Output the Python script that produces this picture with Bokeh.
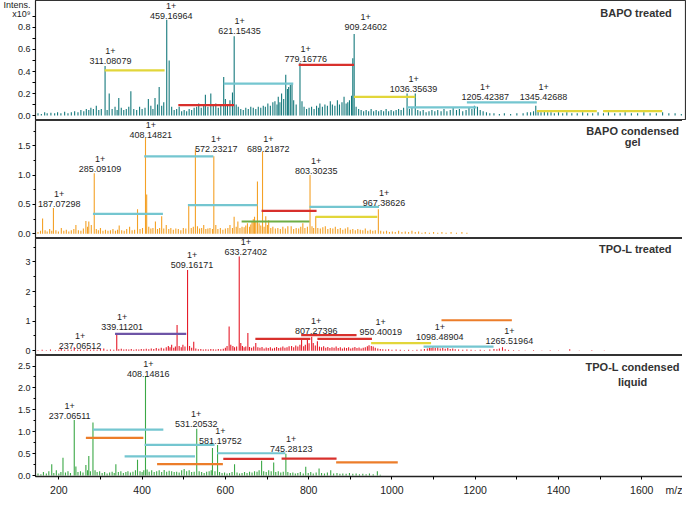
from bokeh.plotting import figure
from bokeh.layouts import column
from bokeh.models import Range1d, Label, FixedTicker, PrintfTickFormatter, ColumnDataSource
from bokeh.core.properties import value
from bokeh.embed import file_html
from bokeh.resources import INLINE

# ---------------- data (m/z, intensity x1e9) ----------------
bapo_treated_peaks = [
    (150, .02), (158, .015), (166, .03), (172, .02), (181, .025), (190, .02), (197, .03), (205, .02),
    (214, .035), (222, .02), (230, .03), (238, .04), (246, .03), (253, .05), (260, .04), (266, .06),
    (272, .05), (277, .07), (283, .06), (290, .09), (296, .05), (302, .06), (311.08, .45), (316, .05),
    (321, .20), (328, .06), (335, .08), (340, .05), (344, .16), (350, .07), (356, .05), (362, .06),
    (368, .08), (373, .22), (380, .06), (387, .05), (394, .08), (400, .06), (407, .07), (415, .15),
    (421, .09), (426, .06), (431, .16), (437, .10), (441, .26), (447, .09), (452, .12), (459.17, .87),
    (465, .50), (471, .08), (477, .05), (483, .06), (489, .08), (495, .04), (501, .05), (507, .04),
    (513, .06), (519, .05), (525, .07), (531, .08), (536, .11), (542, .07), (548, .09), (552, .19),
    (558, .08), (565, .20), (571, .10), (577, .11), (583, .07), (589, .09), (596, .35), (600, .15),
    (605, .10), (611, .14), (617, .21), (621.15, .72), (626, .10), (631, .08), (637, .06), (643, .05),
    (649, .07), (655, .06), (661, .08), (667, .07), (673, .06), (679, .08), (685, .07), (691, .09),
    (696, .08), (702, .11), (708, .09), (714, .12), (719, .13), (724, .10), (727, .17), (731, .12),
    (735, .20), (740, .15), (745, .37), (749, .24), (752, .26), (756, .28), (760, .29), (764, .14),
    (770, .10), (779.17, .48), (784, .13), (789, .08), (795, .06), (801, .07), (807, .08), (813, .06),
    (819, .09), (824, .07), (827, .11), (833, .08), (839, .10), (845, .09), (852, .13), (857, .10),
    (863, .09), (869, .14), (874, .10), (880, .12), (885, .17), (890, .11), (894, .12), (898, .14),
    (903, .18), (906, .52), (909.25, .74), (914, .08), (920, .06), (926, .05), (932, .04), (938, .05),
    (944, .04), (950, .06), (956, .04), (962, .05), (968, .04), (974, .05), (980, .04), (986, .06),
    (992, .04), (998, .05), (1004, .04), (1010, .05), (1016, .06), (1022, .05), (1028, .07),
    (1036.36, .20), (1042, .06), (1048, .07), (1056, .20), (1062, .05), (1068, .04), (1075, .05),
    (1082, .03), (1089, .04), (1096, .05), (1103, .04), (1110, .05), (1118, .04), (1125, .06),
    (1132, .04), (1140, .05), (1147, .07), (1155, .05), (1162, .06), (1170, .04), (1178, .05),
    (1185, .07), (1192, .06), (1198, .09), (1205.42, .08), (1212, .05), (1219, .04), (1227, .03),
    (1235, .02), (1245, .02), (1258, .015), (1270, .02), (1285, .015), (1300, .02), (1315, .02),
    (1325, .03), (1333, .03), (1340, .04), (1345.43, .09), (1351, .04), (1358, .03), (1366, .04),
    (1374, .03), (1382, .03), (1390, .02), (1400, .03), (1410, .02), (1420, .03), (1432, .02),
    (1445, .02), (1458, .03), (1470, .02), (1482, .02), (1495, .03), (1508, .02), (1520, .03),
    (1535, .02), (1548, .02), (1560, .03), (1575, .02), (1590, .02), (1605, .03), (1620, .02),
    (1635, .02), (1650, .03), (1665, .02), (1680, .02), (1695, .015),
]
bapo_treated_bars = [
    (310, 454, 0.41, "yellow"), (487, 621, 0.095, "red"), (596, 763, 0.29, "cyan"),
    (776, 909, 0.46, "red"), (909, 1056, 0.17, "yellow"), (1035, 1203, 0.075, "cyan"),
    (1180, 1348, 0.12, "cyan"), (1348, 1492, 0.04, "yellow"), (1507, 1649, 0.04, "yellow"),
]
bapo_treated_labels = [
    ("311.08079", 324, 0.47), ("459.16964", 470, 0.88), ("621.15435", 634, 0.74),
    ("779.16776", 793, 0.49), ("909.24602", 937, 0.78), ("1036.35639", 1052, 0.215),
    ("1205.42387", 1224, 0.14), ("1345.42688", 1364, 0.14),
]

bapo_gel_peaks = [
    (150, .03), (156, .05), (161, .26), (167, .06), (172, .04), (178, .08), (183, .05), (187.07, .44),
    (193, .06), (199, .04), (206, .10), (212, .05), (218, .07), (224, .04), (230, .06), (236, .08),
    (241, .15), (247, .06), (253, .05), (259, .09), (265, .22), (269, .12), (272, .21), (278, .15),
    (285.09, 1.03), (290, .08), (295, .06), (300, .10), (306, .05), (312, .07), (318, .05), (324, .06),
    (330, .08), (336, .05), (341, .07), (345, .14), (351, .06), (357, .05), (363, .08), (370, .12),
    (376, .06), (382, .07), (389, .42), (395, .08), (401, .10), (408.15, 1.63), (411, .67), (416, .12),
    (421, .09), (426, .10), (432, .21), (437, .08), (442, .10), (447, .30), (452, .09), (458, .15),
    (464, .08), (469, .10), (475, .07), (481, .09), (487, .08), (493, .06), (499, .10), (505, .09),
    (512, .48), (518, .10), (523, .12), (528, 1.44), (533, .13), (538, .09), (543, .10), (548, .15),
    (553, .08), (558, .09), (563, .10), (569, .08), (572.23, 1.32), (577, .15), (582, .08), (588, .10),
    (594, .07), (600, .09), (606, .10), (611, .15), (617, .10), (621, .29), (626, .12), (630, .21),
    (635, .10), (640, .12), (645, .11), (649, .14), (653, .18), (658, .12), (661, .16), (664, .21),
    (667, .25), (670, .29), (673, .20), (677, .89), (681, .18), (685, .14), (689.22, 1.40), (693, .12),
    (697, .30), (701, .15), (704, .23), (709, .10), (714, .12), (720, .09), (726, .10), (732, .08),
    (738, .12), (744, .09), (750, .13), (758, .13), (764, .08), (770, .10), (776, .09), (781, .12),
    (786, .18), (791, .10), (797, .12), (803.30, 1.00), (808, .13), (812, .10), (817, .30), (822, .10),
    (828, .09), (834, .11), (840, .13), (846, .08), (852, .10), (858, .09), (864, .12), (870, .08),
    (876, .10), (882, .07), (888, .09), (894, .11), (900, .07), (906, .08), (912, .06), (918, .08),
    (924, .07), (930, .06), (936, .09), (942, .05), (948, .07), (954, .05), (960, .06), (967.39, .42),
    (973, .05), (980, .04), (987, .05), (994, .03), (1001, .04), (1008, .03), (1016, .05), (1024, .03),
    (1032, .04), (1040, .03), (1048, .05), (1056, .03), (1064, .04), (1072, .02), (1080, .03),
    (1090, .02), (1100, .03), (1110, .02), (1120, .03), (1130, .02), (1142, .03), (1155, .02),
    (1168, .03), (1180, .02),
]
bapo_gel_bars = [
    (282, 450, 0.34, "cyan"), (405, 571, 1.32, "cyan"), (510, 677, 0.49, "cyan"),
    (687, 819, 0.39, "red"), (639, 802, 0.21, "green"), (802, 969, 0.46, "cyan"),
    (817, 965, 0.29, "yellow"),
]
bapo_gel_labels = [
    ("187.07298", 201, 0.46), ("285.09109", 299, 1.06), ("408.14821", 421, 1.63),
    ("572.23217", 578, 1.40), ("689.21872", 703, 1.40), ("803.30235", 818, 1.02),
    ("967.38626", 981, 0.47),
]

tpo_treated_peaks = [
    (150, .02), (160, .03), (170, .02), (180, .04), (192, .02), (200, .03), (206, .08), (214, .03),
    (222, .04), (230, .03), (237.07, .12), (245, .03), (252, .04), (260, .02), (268, .05), (276, .03),
    (284, .04), (292, .03), (300, .06), (308, .08), (316, .03), (324, .04), (332, .03), (339.11, .60),
    (344, .05), (350, .07), (356, .04), (362, .05), (368, .04), (374, .06), (380, .03), (386, .05),
    (392, .04), (398, .06), (404, .05), (410, .07), (416, .05), (422, .08), (428, .06), (434, .09),
    (440, .07), (446, .10), (452, .08), (458, .12), (463, .16), (467, .12), (471, .20), (476, .10),
    (480, .14), (484, .87), (489, .16), (494, .12), (498, .20), (503, .14), (509.16, 2.73), (514, .16),
    (519, .10), (524, .30), (529, .08), (535, .05), (541, .06), (547, .04), (553, .05), (559, .04),
    (565, .06), (571, .05), (577, .04), (583, .06), (589, .05), (595, .07), (600, .10), (604, .16),
    (609, .82), (613, .20), (618, .16), (622, .12), (627, .14), (633.27, 3.18), (637, .26), (641, .16),
    (645, .12), (649, .14), (654, .60), (658, .13), (663, .10), (668, .14), (673, .26), (678, .12),
    (683, .10), (688, .13), (693, .08), (698, .11), (703, .09), (708, .12), (713, .08), (718, .10),
    (723, .13), (728, .09), (733, .11), (738, .14), (743, .10), (748, .12), (753, .15), (759, .16),
    (764, .12), (769, .18), (774, .14), (779, .20), (783, .37), (788, .15), (792, .20), (797, .42),
    (801, .25), (807.27, .47), (811, .26), (816, .18), (821, .32), (826, .14), (831, .12), (836, .15),
    (841, .10), (846, .13), (851, .09), (856, .12), (861, .10), (866, .14), (871, .09), (876, .12),
    (881, .08), (886, .11), (891, .09), (896, .12), (901, .08), (906, .10), (911, .13), (916, .09),
    (921, .11), (926, .08), (931, .10), (936, .12), (941, .15), (945, .19), (950.40, .16), (955, .14),
    (960, .10), (966, .08), (972, .06), (978, .05), (985, .04), (992, .05), (1000, .03), (1010, .04),
    (1020, .03), (1030, .02), (1040, .03), (1050, .02), (1060, .03), (1070, .04), (1078, .06),
    (1085, .08), (1090, .10), (1094, .09), (1098.49, .13), (1104, .10), (1110, .12), (1116, .08),
    (1122, .10), (1128, .07), (1134, .09), (1140, .06), (1146, .08), (1152, .05), (1160, .04),
    (1170, .03), (1180, .04), (1190, .03), (1200, .02), (1212, .03), (1222, .02), (1235, .04),
    (1245, .06), (1252, .05), (1258, .08), (1265.52, .12), (1272, .05), (1280, .03), (1292, .02),
    (1305, .02), (1320, .01), (1340, .02), (1360, .01), (1380, .02), (1400, .01), (1427, .05),
    (1450, .01), (1480, .015), (1510, .01),
]
tpo_treated_bars = [
    (335, 506, 0.57, "purple"), (672, 804, 0.40, "red"), (782, 915, 0.53, "red"),
    (821, 952, 0.40, "red"), (950, 1094, 0.26, "yellow"), (1076, 1244, 0.14, "cyan"),
    (1119, 1288, 1.03, "orange"),
]
tpo_treated_labels = [
    ("237.06512", 251, 0.05), ("339.11201", 352, 0.69), ("509.16171", 520, 2.81),
    ("633.27402", 649, 3.23), ("807.27396", 818, 0.58), ("950.40019", 973, 0.52),
    ("1098.48904", 1115, 0.35), ("1265.51964", 1282, 0.24),
]

tpo_liquid_peaks = [
    (150, .05), (157, .03), (163, .08), (170, .05), (176, .10), (183, .26), (188, .06), (194, .12),
    (200, .05), (205, .08), (210, .41), (216, .07), (222, .10), (228, .06), (237.07, 1.27), (241, .21),
    (246, .08), (252, .10), (258, .07), (265, .24), (269, .12), (272, .45), (276, .10), (282, 1.21),
    (287, .12), (292, .08), (298, .10), (304, .06), (310, .08), (316, .05), (322, .07), (328, .09),
    (333, .06), (337, .26), (343, .08), (349, .10), (355, .06), (361, .08), (366, .10), (372, .07),
    (378, .09), (384, .12), (389, .36), (395, .10), (400, .08), (404, .12), (408.15, 2.27), (412, .14),
    (417, .09), (423, .12), (429, .08), (435, .10), (441, .12), (447, .08), (453, .13), (459, .09),
    (465, .11), (471, .10), (477, .08), (483, .09), (489, .07), (495, .12), (501, .15), (507, .10),
    (513, .12), (519, .08), (525, .09), (531.21, 1.07), (537, .10), (543, .08), (549, .06), (555, .09),
    (561, .10), (566, .12), (569, .63), (575, .10), (581.20, .70), (586, .08), (592, .06), (598, .07),
    (604, .05), (610, .06), (616, .08), (622, .26), (628, .07), (634, .05), (640, .06), (646, .08),
    (652, .06), (658, .09), (664, .07), (670, .10), (676, .09), (681, .12), (687, .34), (692, .10),
    (698, .08), (704, .12), (710, .10), (716, .30), (721, .08), (727, .10), (733, .07), (739, .09),
    (745.28, .50), (750, .08), (756, .06), (762, .07), (768, .05), (774, .06), (780, .08), (787, .05),
    (793, .20), (799, .06), (805, .08), (811, .05), (818, .07), (825, .16), (831, .06), (838, .05),
    (845, .07), (853, .12), (860, .05), (868, .06), (875, .04), (882, .05), (890, .04), (898, .06),
    (906, .04), (914, .05), (922, .03), (930, .04), (938, .03), (946, .05), (955, .03), (965, .10),
    (972, .02),
]
tpo_liquid_bars = [
    (282, 451, 1.05, "cyan"), (265, 403, 0.86, "orange"), (406, 574, 0.70, "cyan"),
    (358, 527, 0.44, "cyan"), (436, 594, 0.26, "orange"), (580, 744, 0.51, "cyan"),
    (595, 717, 0.38, "red"), (735, 867, 0.39, "red"), (866, 1014, 0.30, "orange"),
]
tpo_liquid_labels = [
    ("237.06511", 226, 1.30), ("408.14816", 415, 2.26), ("531.20532", 530, 1.11),
    ("581.19752", 588, 0.72), ("745.28123", 758, 0.55),
]

x_ticks = [200, 400, 600, 800, 1000, 1200, 1400, 1600]
x_minor = [300, 500, 700, 900, 1100, 1300, 1500]
x_unit_label = ("m/z", 1686)
y_unit_labels = [("Intens.", 1.0), ("x10⁹", 0.92)]

# ---------------- styling ----------------
BAR_COLORS = {"yellow": "#e2d63a", "red": "#d8302c", "cyan": "#74c6d0", "green": "#6fae45",
              "purple": "#6e54a6", "orange": "#ec7d2a"}
FONT = "Liberation Sans"
LEFT = 31
FW = 682 - LEFT - 1
xr = Range1d(144, 1705)


def panel(peaks, color, yr, ticks, minor, fmt, fh, bars, labels, titles, bottom=False,
          extra_y=None):
    p = figure(x_range=xr, y_range=Range1d(*yr), frame_width=FW, frame_height=fh,
               output_backend="svg", toolbar_location=None,
               min_border_left=LEFT, min_border_right=1, min_border_top=0, min_border_bottom=0,
               background_fill_color="white", border_fill_color="white")
    p.outline_line_color = "#333333"
    p.outline_line_width = 1.2
    p.xgrid.visible = False
    p.ygrid.visible = False

    mz = [a for a, b in peaks]
    it = [b for a, b in peaks]
    p.segment(x0=mz, y0=[0] * len(mz), x1=mz, y1=it, line_color=color, line_width=1.1)

    p.segment(x0=[b[0] for b in bars], x1=[b[1] for b in bars],
              y0=[b[2] for b in bars], y1=[b[2] for b in bars],
              line_color=[BAR_COLORS[b[3]] for b in bars], line_width=2.2)

    src = ColumnDataSource(dict(x=[l[1] for l in labels], y=[l[2] for l in labels],
                                t=[l[0] for l in labels], z=["1+"] * len(labels)))
    p.text(x="x", y="y", text="t", source=src, text_align="center", text_baseline="bottom",
           text_font=value(FONT), text_font_size="9px", text_color="#1e1e1e")
    p.text(x="x", y="y", text="z", source=src, text_align="center", text_baseline="bottom",
           y_offset=-10, text_font=value(FONT), text_font_size="9px", text_color="#1e1e1e")

    for (txt, x, y, align) in titles:
        p.add_layout(Label(x=x, y=y, text=txt, text_align=align, text_baseline="middle",
                           text_font=FONT, text_font_style="bold", text_font_size="11px",
                           text_color="#333333"))

    ax = p.yaxis[0]
    if extra_y:
        ax.ticker = FixedTicker(ticks=ticks + [v for _, v in extra_y], minor_ticks=ticks + minor)
        ax.major_label_overrides = {v: t for t, v in extra_y}
        ax.major_tick_out = 0
        ax.minor_tick_out = 3
    else:
        ax.ticker = FixedTicker(ticks=ticks, minor_ticks=minor)
        ax.major_tick_out = 3
        ax.minor_tick_out = 2
    ax.formatter = PrintfTickFormatter(format=fmt)
    ax.major_label_text_font = FONT
    ax.major_label_text_font_size = "9px"
    ax.major_label_text_color = "#222222"
    ax.major_tick_in = 0
    ax.minor_tick_in = 0
    ax.major_label_standoff = 2
    ax.axis_line_color = "#222222"

    if bottom:
        xa = p.xaxis[0]
        xa.ticker = FixedTicker(ticks=x_ticks + [x_unit_label[1]], minor_ticks=x_ticks + x_minor)
        xa.major_label_overrides = {x_unit_label[1]: x_unit_label[0]}
        xa.major_label_text_font = FONT
        xa.major_label_text_font_size = "10.5px"
        xa.major_label_text_color = "#222222"
        xa.major_tick_in = 0
        xa.major_tick_out = 0
        xa.minor_tick_in = 0
        xa.minor_tick_out = 3
        xa.major_label_standoff = 4
        xa.axis_line_color = "#222222"
        xa.axis_line_width = 1.5
    else:
        p.xaxis.visible = False
    return p


p1 = panel(bapo_treated_peaks, "#15797c", (-0.045, 1.045), [0, 0.2, 0.4, 0.6, 0.8],
           [0.1, 0.3, 0.5, 0.7, 0.9], "%.1f", 120, bapo_treated_bars, bapo_treated_labels,
           [("BAPO treated", 1672, 0.934, "right")], extra_y=y_unit_labels)

p2 = panel(bapo_gel_peaks, "#f4a126", (-0.08, 1.93), [0, 0.5, 1.0, 1.5],
           [0.25, 0.75, 1.25, 1.75], "%.1f", 118, bapo_gel_bars, bapo_gel_labels,
           [("BAPO condensed", 1578, 1.75, "center"), ("gel", 1578, 1.556, "center")])

p3 = panel(tpo_treated_peaks, "#e61c2a", (-0.16, 3.79), [0, 1, 2, 3],
           [0.5, 1.5, 2.5, 3.5], "%d", 117, tpo_treated_bars, tpo_treated_labels,
           [("TPO-L treated", 1672, 3.42, "right")])

p4 = panel(tpo_liquid_peaks, "#3ba846", (-0.02, 2.74), [0, 0.5, 1.0, 1.5, 2.0, 2.5],
           [0.25, 0.75, 1.25, 1.75, 2.25], "%.1f", 121, tpo_liquid_bars, tpo_liquid_labels,
           [("TPO-L condensed", 1578, 2.48, "center"), ("liquid", 1578, 2.13, "center")],
           bottom=True)

layout = column(p1, p2, p3, p4, spacing=0)
open("out.html", "w").write(file_html(layout, INLINE))
